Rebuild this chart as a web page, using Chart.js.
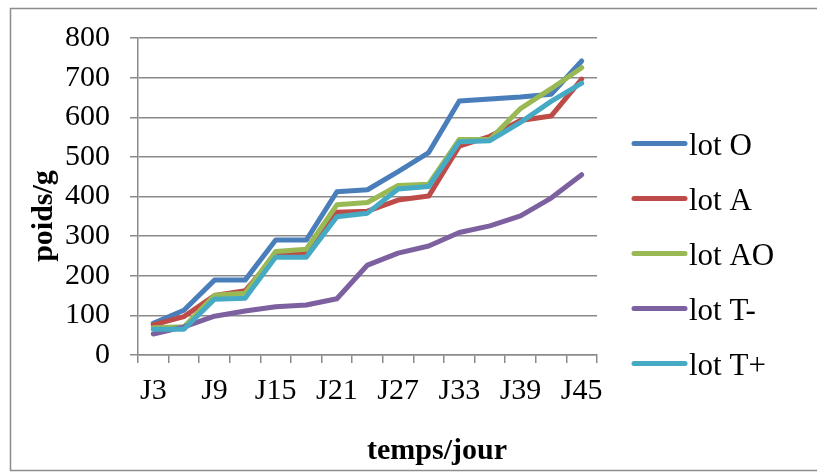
<!DOCTYPE html>
<html>
<head>
<meta charset="utf-8">
<script src="https://cdn.jsdelivr.net/npm/chart.js@4"></script>
<style>
  html, body { margin: 0; padding: 0; background: #fff; }
  #c { display: block; }
</style>
</head>
<body>
<canvas id="c" width="817" height="472"></canvas>
<script>
// Days of measurement
const categories = ['J3','J6','J9','J12','J15','J18','J21','J24','J27','J30','J33','J36','J39','J42','J45'];

// Weight (g) per batch
const lotO  = [80, 113, 189, 189, 290, 290, 412, 417, 463, 511, 641, 646, 651, 658, 742];
const lotA  = [76, 97, 150, 162, 252, 257, 360, 363, 391, 401, 527, 552, 592, 603, 696];
const lotAO = [69, 71, 151, 156, 261, 267, 379, 385, 428, 431, 544, 544, 622, 672, 725];
const lotTm = [53, 71, 98, 111, 122, 126, 142, 227, 257, 275, 309, 326, 351, 396, 455];
const lotTp = [65, 65, 141, 143, 247, 247, 349, 358, 419, 425, 538, 541, 587, 640, 686];

const seriesNames = ['lot O', 'lot A', 'lot AO', 'lot T-', 'lot T+'];
const seriesColors = ['#4A7EBB', '#BE4B48', '#98B954', '#7D60A0', '#46AAC5'];
const yTicks = [0, 100, 200, 300, 400, 500, 600, 700, 800];

const serif = '"Liberation Serif", "Times New Roman", serif';
const gridColor = '#8a8a8a';

const seriesData = [lotO, lotA, lotAO, lotTm, lotTp];

const datasets = seriesData.map((d, i) => ({
  label: seriesNames[i],
  data: d,
  borderColor: seriesColors[i],
  backgroundColor: seriesColors[i],
  borderWidth: 5,
  pointRadius: 0,
  tension: 0,
  fill: false,
  borderJoinStyle: 'round',
  borderCapStyle: 'round',
  // later series are painted over earlier ones
  order: seriesData.length - 1 - i
}));

// Frame, axis titles and legend
const decorations = {
  id: 'decorations',
  beforeDraw(chart) {
    const ctx = chart.ctx;
    ctx.save();
    ctx.fillStyle = '#fff';
    ctx.fillRect(0, 0, chart.width, chart.height);
    ctx.strokeStyle = '#8c8c8c';
    ctx.lineWidth = 1.5;
    ctx.strokeRect(10.5, 8.5, 900, 462);
    ctx.restore();
  },
  afterDraw(chart) {
    const ctx = chart.ctx;
    ctx.save();
    ctx.fillStyle = '#000';

    // x axis title
    ctx.font = 'bold 30px ' + serif;
    ctx.textAlign = 'center';
    ctx.textBaseline = 'middle';
    ctx.fillText('temps/jour', 437, 451);

    // y axis title
    ctx.save();
    ctx.translate(44, 216);
    ctx.rotate(-Math.PI / 2);
    ctx.fillText('poids/g', 0, 0);
    ctx.restore();

    // legend
    ctx.font = '31px ' + serif;
    ctx.textAlign = 'left';
    ctx.textBaseline = 'alphabetic';
    ctx.lineCap = 'round';
    chart.data.datasets.forEach((ds, i) => {
      const y = 143.5 + i * 55;
      ctx.strokeStyle = ds.borderColor;
      ctx.lineWidth = 5;
      ctx.beginPath();
      ctx.moveTo(634, y);
      ctx.lineTo(685, y);
      ctx.stroke();
      ctx.fillText(ds.label, 689, y + 11);
    });
    ctx.restore();
  }
};

new Chart(document.getElementById('c'), {
  type: 'line',
  data: { labels: categories, datasets },
  options: {
    responsive: false,
    animation: false,
    devicePixelRatio: 1,
    layout: { padding: { left: 0, top: 38, right: 220, bottom: 0 } },
    plugins: {
      legend: { display: false },
      tooltip: { enabled: false }
    },
    scales: {
      x: {
        offset: true,
        grid: {
          offset: true,
          drawOnChartArea: false,
          drawTicks: true,
          tickLength: 8,
          color: gridColor,
          lineWidth: 1.5
        },
        border: { display: true, color: gridColor, width: 1.5 },
        ticks: {
          autoSkip: false,
          maxRotation: 0,
          padding: 10,
          color: '#000',
          font: { family: serif, size: 30 },
          callback: (v, i) => (i % 2 === 0 ? categories[i] : '')
        },
        afterFit: (s) => { s.height = 117; }
      },
      y: {
        min: yTicks[0],
        max: yTicks[yTicks.length - 1],
        afterBuildTicks: (s) => { s.ticks = yTicks.map(v => ({ value: v })); },
        grid: {
          color: gridColor,
          lineWidth: 1.5,
          drawTicks: true,
          tickLength: 8
        },
        border: { display: true, color: gridColor, width: 1.5 },
        ticks: {
          padding: 20,
          color: '#000',
          font: { family: serif, size: 30 }
        },
        afterFit: (s) => { s.width = 138; }
      }
    }
  },
  plugins: [decorations]
});
</script>
</body>
</html>
